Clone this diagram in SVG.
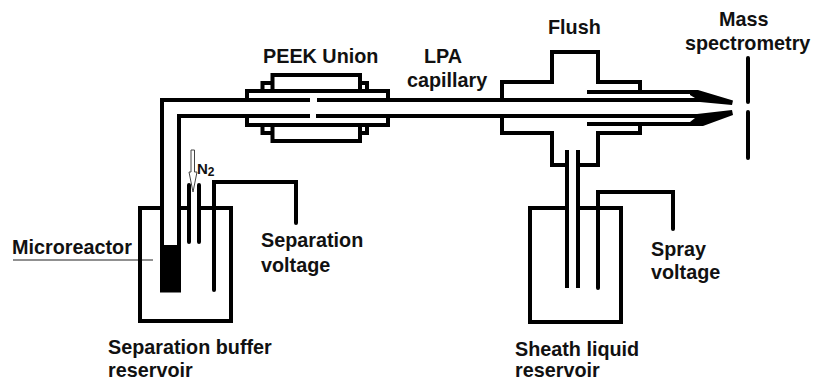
<svg xmlns="http://www.w3.org/2000/svg" width="813" height="381" viewBox="0 0 813 381">
<style>
.l{fill:none;stroke:#000;stroke-width:4}
.r{stroke-linecap:round}
.t{font-family:"Liberation Sans",Arial,sans-serif;font-weight:bold;font-size:19.800px;fill:#111}
</style>
<rect width="813" height="381" fill="#fff"/>
<g id="connectors">
<path class="l" d="M162 245V100H310M317 100H700"/>
<path class="l" d="M179 245V116H310M316 116H700"/>
<path d="M690 90H698L733 100.500L732 105L700 102L695 98L690 95ZM697 114L732 110L733 115L703 126H695L690 122L695 118Z" fill="#000"/>
<path class="l r" d="M748 58V102M748 112V158"/>
<line x1="13" y1="260" x2="153" y2="260" stroke="#222" stroke-width="1"/>
</g>
<g id="peek-union">
<path class="l" d="M247 100V91H388V100M247 116V125H388V116"/>
<path class="l" d="M272.500 91V75H360V91M272.500 125V141H360V125"/>
<path class="l" d="M272 83H262.500V91M360 83H367V91M272 133H262.500V125M360 133H367V125"/>
<text class="t" x="263" y="63">PEEK Union</text>
</g>
<g id="lpa-capillary">
<text class="t" x="424" y="63">LPA</text>
<text class="t" x="407" y="87">capillary</text>
</g>
<g id="flush">
<path class="l" d="M502 100V82H552V52H598V82H640V92M502 116V133H552V165H565M580 165H598V133H640V124"/>
<path class="l" d="M587 92H692M587 124H696"/>
<text class="t" x="548" y="34">Flush</text>
</g>
<g id="mass-spectrometry">
<text class="t" x="719" y="26">Mass</text>
<text class="t" x="685" y="50">spectrometry</text>
</g>
<g id="separation-reservoir">
<path class="l" d="M160 208H140V321H231V208H199M181 208H189"/>
<rect x="160" y="245" width="21" height="47.500" fill="#000"/>
<path class="l r" d="M189 185V242M199 185V242"/>
<path class="l r" d="M214 290V182H296V223"/>
<path d="M191 150H194.500V172H197L193 192L189 172H191Z" fill="#fff" stroke="#444" stroke-width="1"/>
<text class="t" x="197" y="174" style="font-size:15px">N<tspan style="font-size:12px" dy="2">2</tspan></text>
<text class="t" x="12" y="254">Microreactor</text>
<text class="t" x="261" y="247">Separation</text>
<text class="t" x="261" y="272">voltage</text>
<text class="t" x="108" y="354">Separation buffer</text>
<text class="t" x="108" y="377">reservoir</text>
</g>
<g id="sheath-reservoir">
<path class="l" d="M567 150V288M578 150V288"/>
<path class="l" d="M565 208H530V322H621V208H580"/>
<path class="l r" d="M598 288V192H673V229"/>
<text class="t" x="651" y="256">Spray</text>
<text class="t" x="651" y="279">voltage</text>
<text class="t" x="515" y="356">Sheath liquid</text>
<text class="t" x="515" y="377">reservoir</text>
</g>
</svg>
